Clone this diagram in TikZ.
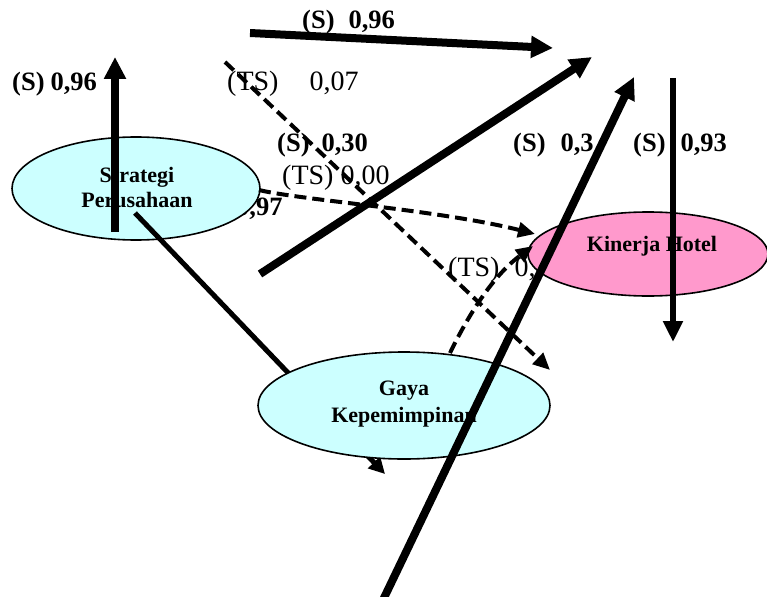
\documentclass[tikz,border=0pt]{standalone}
\usepackage{fontspec}
\setmainfont{Liberation Serif}
\usetikzlibrary{arrows.meta,shapes.geometric}
\definecolor{cyanfill}{HTML}{CCFFFF}
\definecolor{pinkfill}{HTML}{FF99CC}
\begin{document}
\begin{tikzpicture}[x=1pt,y=-1pt,
  ell/.style={ellipse, draw=black, line width=1.6pt, inner sep=0pt},
  etext/.style={font=\fontsize{22}{25}\selectfont\bfseries, align=center, inner sep=0pt},
  lblb/.style={font=\fontsize{26.5}{30}\selectfont\bfseries, inner sep=0pt, anchor=west},
  lblr/.style={font=\fontsize{28}{30}\selectfont, inner sep=0pt, anchor=west},
  thickarr/.style={line width=8pt, -{Triangle[length=22pt,width=21pt]}},
  medarr/.style={line width=5pt, -{Triangle[length=16pt,width=16pt]}},
  dasharr/.style={line width=4pt, dash pattern=on 12pt off 6pt, -{Triangle[length=17pt,width=15pt]}}
]
\useasboundingbox (0,0) rectangle (767,596);

% coordinates
\coordinate (a1s) at (115,232); \coordinate (a1e) at (115,57);
\coordinate (a2s) at (250,33);  \coordinate (a2e) at (553,48);
\coordinate (a3s) at (260,274); \coordinate (a3e) at (592,57);
\coordinate (a4s) at (383,600); \coordinate (a4e) at (634,77);
\coordinate (a5s) at (673,78);  \coordinate (a5e) at (673,342);
\coordinate (sgs) at (135,213); \coordinate (sge) at (385,474);
\coordinate (dAs) at (225,62);  \coordinate (dAe) at (550,370);
\coordinate (dBs) at (259,190); \coordinate (dBe) at (535,234);
\coordinate (dCs) at (450,353); \coordinate (dCe) at (533,246);

% label partly hidden by the Strategi ellipse
\node[lblb] (l97) at (236,209) {0,97};

% Strategi Perusahaan
\node[ell, fill=cyanfill, minimum width=248pt, minimum height=103pt] (sp) at (136,188.5) {};
\node[etext] (spt) at (137,188) {Strategi\\Perusahaan};

% line from Strategi going under Gaya
\draw[medarr] (sgs) -- (sge);

% label partly hidden by the Kinerja ellipse
\node[lblr] (lts3) at (448,270) {(TS)\hspace{15pt}0,};

% Gaya Kepemimpinan
\node[ell, fill=cyanfill, minimum width=292pt, minimum height=107pt] (gk) at (404,405.5) {};
\node[etext, font=\fontsize{22}{27}\selectfont\bfseries] (gkt) at (404,404) {Gaya\\Kepemimpinan};

% Kinerja Hotel
\node[ell, fill=pinkfill, minimum width=240pt, minimum height=84pt] (kh) at (648,254) {};
\node[etext] (kht) at (652,246) {Kinerja Hotel};

% dashed arrows
\draw[dasharr] (dAs) -- (dAe);
\draw[dasharr] (dBs) .. controls (300,200) and (440,210) .. (dBe);
\draw[dasharr] (dCs) .. controls (465,322) and (490,278) .. (dCe);

% labels
\node[lblb] (l1) at (302,22) {(S)\hspace{14pt}0,96};
\node[lblb] (l2) at (12,84) {(S)\hspace{6pt}0,96};
\node[lblr] (l3) at (227,83.5) {(TS)\hspace{31pt}0,07};
\node[lblb] (l4) at (277,145) {(S)\hspace{12pt}0,30};
\node[lblr] (l5) at (282,178) {(TS) 0,00};
\node[lblb] (l6) at (513,145) {(S)\hspace{15pt}0,3};
\node[lblb] (l7) at (633,145) {(S)\hspace{15pt}0,93};

% thick arrows
\draw[thickarr] (a1s) -- (a1e);
\draw[thickarr] (a2s) -- (a2e);
\draw[thickarr] (a3s) -- (a3e);
\draw[thickarr] (a4s) -- (a4e);
\draw[thickarr, line width=6.5pt, -{Triangle[length=21pt,width=19pt]}] (a5s) -- (a5e);
\end{tikzpicture}
\end{document}
